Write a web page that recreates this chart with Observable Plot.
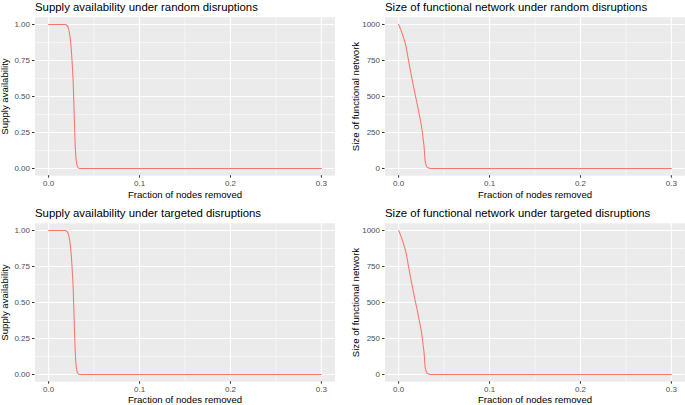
<!DOCTYPE html>
<html><head><meta charset="utf-8">
<script src="https://cdn.jsdelivr.net/npm/d3@7"></script>
<script src="https://cdn.jsdelivr.net/npm/@observablehq/plot@0.6"></script>
<style>
body{margin:0;background:#fff;}
#wrap{position:relative;width:685px;height:405px;overflow:hidden;background:#fff;}
.panel{position:absolute;}
</style></head><body><div id="wrap"></div>
<script>
// ---- data ----
const xTicks = [0, 0.1, 0.2, 0.3];
const xMinor = [0.05, 0.15, 0.25];
const supplyTicks = [0, 0.25, 0.5, 0.75, 1];
const supplyMinor = [0.125, 0.375, 0.625, 0.875];
const sizeTicks = [0, 250, 500, 750, 1000];
const sizeMinor = [125, 375, 625, 875];

const supplyRandomX = [0, 0.005, 0.01, 0.015, 0.018, 0.020, 0.022, 0.024, 0.025, 0.026, 0.027, 0.028, 0.029, 0.030, 0.031, 0.032, 0.034, 0.036, 0.05, 0.1, 0.15, 0.2, 0.25, 0.3];
const supplyRandomY = [1, 1, 1, 1, 1, 0.995, 0.97, 0.89, 0.82, 0.72, 0.60, 0.40, 0.20, 0.08, 0.03, 0.01, 0, 0, 0, 0, 0, 0, 0, 0];
const sizeRandomX = [0, 0.002, 0.004, 0.006, 0.008, 0.011, 0.014, 0.017, 0.020, 0.023, 0.025, 0.026, 0.027, 0.028, 0.029, 0.030, 0.031, 0.033, 0.035, 0.05, 0.1, 0.15, 0.2, 0.25, 0.3];
const sizeRandomY = [1000, 970, 935, 895, 850, 745, 645, 550, 460, 365, 300, 255, 200, 150, 60, 28, 12, 3, 0, 0, 0, 0, 0, 0, 0];

const supplyTargetedX = [0, 0.005, 0.01, 0.015, 0.018, 0.020, 0.022, 0.024, 0.025, 0.026, 0.027, 0.028, 0.029, 0.030, 0.031, 0.032, 0.034, 0.036, 0.05, 0.1, 0.15, 0.2, 0.25, 0.3];
const supplyTargetedY = [1, 1, 1, 1, 1, 0.995, 0.97, 0.89, 0.82, 0.72, 0.60, 0.40, 0.20, 0.08, 0.03, 0.01, 0, 0, 0, 0, 0, 0, 0, 0];
const sizeTargetedX = [0, 0.002, 0.004, 0.006, 0.008, 0.011, 0.014, 0.017, 0.020, 0.023, 0.025, 0.026, 0.027, 0.028, 0.029, 0.030, 0.031, 0.033, 0.035, 0.05, 0.1, 0.15, 0.2, 0.25, 0.3];
const sizeTargetedY = [1000, 970, 935, 895, 850, 745, 645, 550, 460, 365, 300, 255, 200, 150, 60, 28, 12, 3, 0, 0, 0, 0, 0, 0, 0];

const titles = [
  "Supply availability under random disruptions",
  "Size of functional network under random disruptions",
  "Supply availability under targeted disruptions",
  "Size of functional network under targeted disruptions"
];
const xTitle = "Fraction of nodes removed";
const supplyTitle = "Supply availability";
const sizeTitle = "Size of functional network";

// ---- drawing ----
const FONT = "'Liberation Sans', Arial, Helvetica, sans-serif";
const panelTop = 16.8, panelBottom = 24.8, H = 200;

function panel({xs, ys, yTicks, yMinor, yFormat, yMax, title, ylabel, left, top, width, marginLeft, ylabelDx, xlabelDy}) {
  const data = xs.map((x, i) => ({x, y: ys[i]}));
  const pad = yMax * 0.05;
  const marginRight = width - marginLeft - 300;
  const fig = Plot.plot({
    width, height: H,
    marginLeft, marginRight, marginTop: panelTop, marginBottom: panelBottom,
    style: {fontFamily: FONT, background: "transparent", overflow: "visible"},
    x: {domain: [-0.015, 0.315]},
    y: {domain: [-pad, yMax + pad]},
    marks: [
      Plot.frame({fill: "#EBEBEB", stroke: null}),
      Plot.ruleX(xMinor, {stroke: "#ffffff", strokeWidth: 0.5}),
      Plot.ruleY(yMinor, {stroke: "#ffffff", strokeWidth: 0.5}),
      Plot.ruleX(xTicks, {stroke: "#ffffff", strokeWidth: 1.07}),
      Plot.ruleY(yTicks, {stroke: "#ffffff", strokeWidth: 1.07}),
      Plot.line(data, {x: "x", y: "y", stroke: "#F8766D", strokeWidth: 1.07, curve: "monotone-x"}),
      Plot.axisX(xTicks, {tickFormat: d3.format(".1f"), tickSize: 2.5, tickPadding: 1.8, fontSize: 8, fill: "#4D4D4D", stroke: "#333333", label: null}),
      Plot.axisY(yTicks, {tickFormat: yFormat, tickSize: 2.5, tickPadding: 2.5, fontSize: 8, fill: "#4D4D4D", stroke: "#333333", label: null}),
      Plot.text([title], {text: d => d, frameAnchor: "top-left", textAnchor: "start", lineAnchor: "bottom", dy: -6.5, fontSize: 11.4, fill: "#000"}),
      Plot.text([xTitle], {text: d => d, frameAnchor: "bottom", textAnchor: "middle", lineAnchor: "bottom", dy: xlabelDy, fontSize: 9.6, fill: "#000"}),
      Plot.text([ylabel], {text: d => d, frameAnchor: "left", textAnchor: "middle", lineAnchor: "bottom", rotate: -90, dx: ylabelDx, fontSize: 9.6, fill: "#000"})
    ]
  });
  const div = document.createElement("div");
  div.className = "panel";
  div.style.left = left + "px";
  div.style.top = top + "px";
  div.appendChild(fig);
  document.getElementById("wrap").appendChild(div);
}

panel({xs: supplyRandomX, ys: supplyRandomY, yTicks: supplyTicks, yMinor: supplyMinor, yFormat: d3.format(".2f"), yMax: 1,
  title: titles[0], ylabel: supplyTitle, left: 0, top: 0, width: 340, marginLeft: 34.5, ylabelDx: -27, xlabelDy: 22.1});
panel({xs: sizeRandomX, ys: sizeRandomY, yTicks: sizeTicks, yMinor: sizeMinor, yFormat: d3.format("d"), yMax: 1000,
  title: titles[1], ylabel: sizeTitle, left: 340, top: 0, width: 345, marginLeft: 44.5, ylabelDx: -26.4, xlabelDy: 22.1});
panel({xs: supplyTargetedX, ys: supplyTargetedY, yTicks: supplyTicks, yMinor: supplyMinor, yFormat: d3.format(".2f"), yMax: 1,
  title: titles[2], ylabel: supplyTitle, left: 0, top: 206, width: 340, marginLeft: 34.5, ylabelDx: -27, xlabelDy: 21.4});
panel({xs: sizeTargetedX, ys: sizeTargetedY, yTicks: sizeTicks, yMinor: sizeMinor, yFormat: d3.format("d"), yMax: 1000,
  title: titles[3], ylabel: sizeTitle, left: 340, top: 206, width: 345, marginLeft: 44.5, ylabelDx: -26.4, xlabelDy: 21.4});
</script></body></html>
